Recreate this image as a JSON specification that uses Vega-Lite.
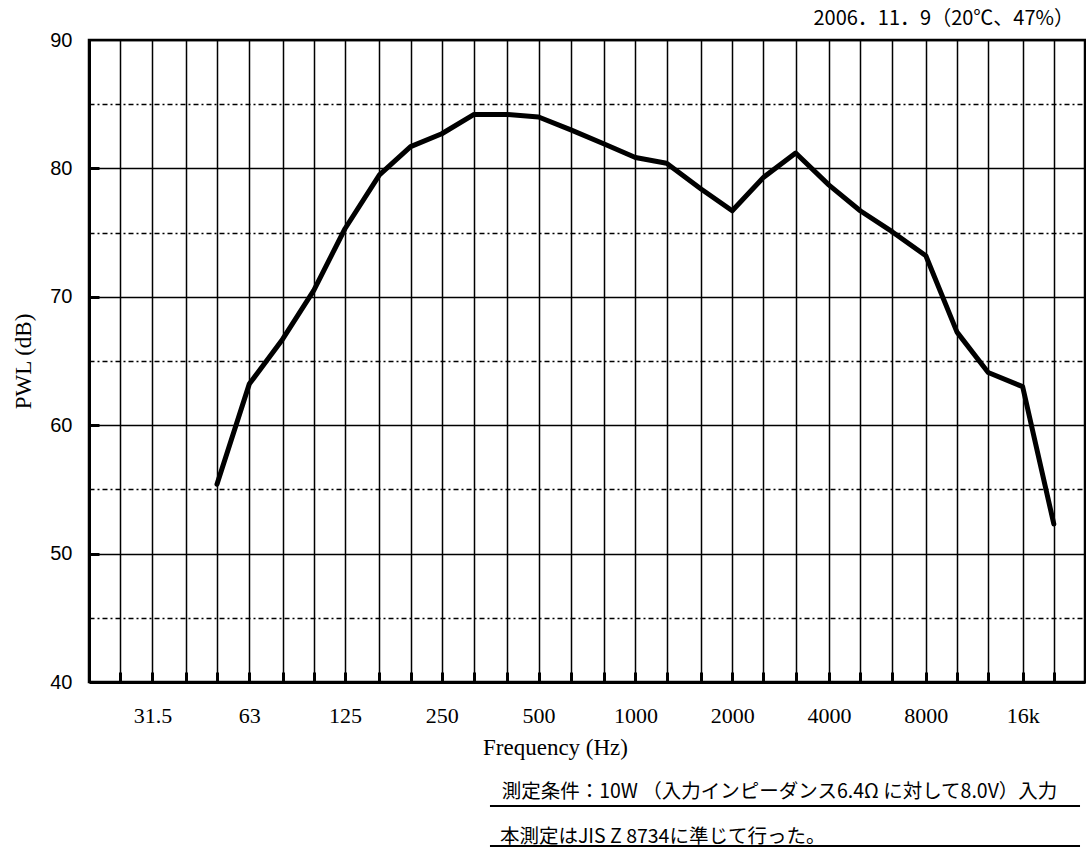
{
  "$schema": "https://vega.github.io/schema/vega-lite/v6.json",
  "width": 996,
  "height": 642,
  "autosize": {"type": "none"},
  "padding": {"left": 89, "top": 40, "right": 1, "bottom": 166},
  "background": "white",
  "config": {
    "view": {"stroke": "black", "strokeWidth": 2.5},
    "axis": {"labelColor": "black", "titleColor": "black", "tickColor": "black", "domainColor": "black", "gridColor": "black", "gridOpacity": 1}
  },
  "title": {
    "text": "2006．11．9（20℃、47%）",
    "anchor": "end",
    "frame": "group",
    "font": "Noto Sans CJK JP",
    "fontSize": 20,
    "fontWeight": "normal",
    "color": "black",
    "offset": 1,
    "dx": -11
  },
  "layer": [
    {
      "data": {
        "values": [
          {"freq": 50, "pwl": 55.4},
          {"freq": 63, "pwl": 63.2},
          {"freq": 80, "pwl": 66.7},
          {"freq": 100, "pwl": 70.5},
          {"freq": 125, "pwl": 75.3},
          {"freq": 160, "pwl": 79.5},
          {"freq": 200, "pwl": 81.7},
          {"freq": 250, "pwl": 82.7},
          {"freq": 315, "pwl": 84.2},
          {"freq": 400, "pwl": 84.2},
          {"freq": 500, "pwl": 84.0},
          {"freq": 630, "pwl": 83.0},
          {"freq": 800, "pwl": 81.9},
          {"freq": 1000, "pwl": 80.85},
          {"freq": 1250, "pwl": 80.4},
          {"freq": 1600, "pwl": 78.4},
          {"freq": 2000, "pwl": 76.7},
          {"freq": 2500, "pwl": 79.3},
          {"freq": 3150, "pwl": 81.2},
          {"freq": 4000, "pwl": 78.7},
          {"freq": 5000, "pwl": 76.7},
          {"freq": 6300, "pwl": 75.05},
          {"freq": 8000, "pwl": 73.2},
          {"freq": 10000, "pwl": 67.25},
          {"freq": 12500, "pwl": 64.1},
          {"freq": 16000, "pwl": 63.0},
          {"freq": 20000, "pwl": 52.3}
        ]
      },
      "mark": {"type": "line", "color": "black", "strokeWidth": 5, "strokeJoin": "round", "strokeCap": "round"},
      "encoding": {
        "x": {
          "field": "freq",
          "type": "quantitative",
          "scale": {"type": "log", "domain": [20, 25000], "nice": false},
          "axis": {
            "values": [25, 31.5, 40, 50, 63, 80, 100, 125, 160, 200, 250, 315, 400, 500, 630, 800, 1000, 1250, 1600, 2000, 2500, 3150, 4000, 5000, 6300, 8000, 10000, 12500, 16000, 20000],
            "labelExpr": "indexof([31.5,63,125,250,500,1000,2000,4000,8000], datum.value) >= 0 ? '' + datum.value : (datum.value == 16000 ? '16k' : '')",
            "labelOverlap": false,
            "labelFlush": false,
            "labelFont": "Liberation Serif",
            "labelFontSize": 22,
            "labelPadding": 33,
            "grid": true,
            "gridWidth": 1.5,
            "ticks": true,
            "tickSize": -10,
            "tickWidth": 3,
            "domainWidth": 3,
            "title": "Frequency (Hz)",
            "titleFont": "Liberation Serif",
            "titleFontSize": 23,
            "titleFontWeight": "normal",
            "titlePadding": 10,
            "titleX": 466
          }
        },
        "y": {
          "field": "pwl",
          "type": "quantitative",
          "scale": {"domain": [40, 90], "nice": false, "zero": false},
          "axis": {
            "values": [40, 45, 50, 55, 60, 65, 70, 75, 80, 85, 90],
            "labelExpr": "datum.value % 10 == 0 ? datum.label : ''",
            "labelFont": "Liberation Sans",
            "labelFontSize": 20,
            "labelPadding": 27,
            "grid": true,
            "gridWidth": 1.5,
            "gridDash": {"condition": {"test": "datum.value % 10 != 0", "value": [5, 3, 2, 3]}, "value": []},
            "ticks": true,
            "tickSize": -10,
            "tickWidth": 3,
            "tickOpacity": {"condition": {"test": "datum.value % 10 != 0 || datum.value == 40 || datum.value == 90", "value": 0}, "value": 1},
            "domainWidth": 3,
            "title": "PWL (dB)",
            "titleFont": "Liberation Serif",
            "titleFontSize": 23,
            "titleFontWeight": "normal",
            "titlePadding": 14
          }
        }
      }
    },
    {
      "data": {"values": [{"note": "測定条件：10W （入力インピーダンス6.4Ω に対して8.0V）入力"}]},
      "mark": {"type": "text", "font": "Noto Sans CJK JP", "fontSize": 19.5, "color": "black", "align": "center", "baseline": "middle"},
      "encoding": {
        "x": {"datum": 2806, "type": "quantitative"},
        "y": {"datum": 31.43, "type": "quantitative"},
        "text": {"field": "note"}
      }
    },
    {
      "data": {"values": [{"note": "本測定はJIS Z 8734に準じて行った。"}]},
      "mark": {"type": "text", "font": "Noto Sans CJK JP", "fontSize": 19.5, "color": "black", "align": "left", "baseline": "middle"},
      "encoding": {
        "x": {"datum": 379, "type": "quantitative"},
        "y": {"datum": 27.93, "type": "quantitative"},
        "text": {"field": "note"}
      }
    },
    {
      "data": {"values": [{"y": 30.34}, {"y": 27.23}]},
      "mark": {"type": "rule", "color": "black", "strokeWidth": 2},
      "encoding": {
        "x": {"datum": 353, "type": "quantitative"},
        "x2": {"datum": 24123},
        "y": {"field": "y", "type": "quantitative"}
      }
    }
  ]
}
